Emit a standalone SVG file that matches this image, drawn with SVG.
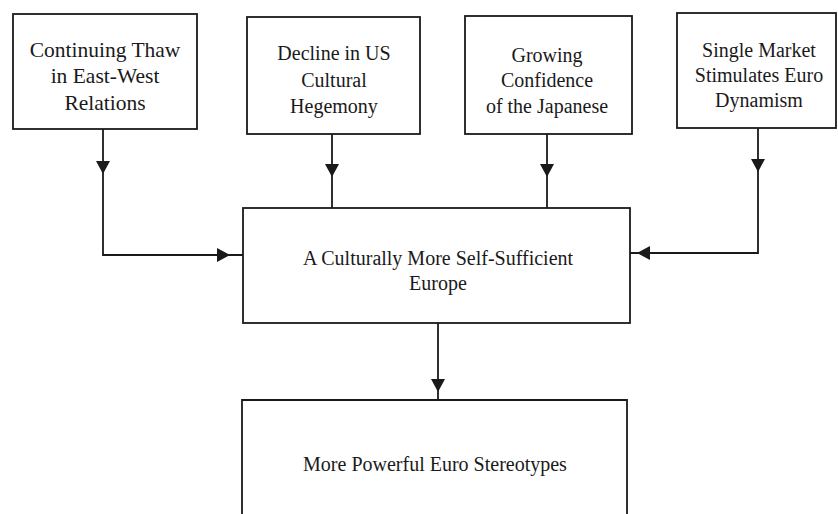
<svg xmlns="http://www.w3.org/2000/svg" width="838" height="514" viewBox="0 0 838 514">
<style>
.box{fill:#fff;stroke:#1a1a1a;stroke-width:1.8}
.ln{fill:none;stroke:#1a1a1a;stroke-width:1.8}
.t{font-family:"Liberation Serif","DejaVu Serif",serif;font-size:20px;fill:#1a1a1a;text-anchor:middle}
.big{font-size:21.5px}
.ah{fill:#1a1a1a}
</style>
<defs>
<path id="ah" d="M-7,-13 L7,-13 L0,0 Z"/>
</defs>
<rect width="838" height="514" fill="#fff"/>
<g id="connectors">
<path class="ln" d="M103,129 V255 H243"/>
<path class="ln" d="M332,134 V208"/>
<path class="ln" d="M547,134 V208"/>
<path class="ln" d="M758,128 V253 H630"/>
<path class="ln" d="M438,323 V400"/>
<use href="#ah" class="ah" transform="translate(103,174)"/>
<use href="#ah" class="ah" transform="translate(332,177)"/>
<use href="#ah" class="ah" transform="translate(547,177)"/>
<use href="#ah" class="ah" transform="translate(758,172)"/>
<use href="#ah" class="ah" transform="translate(230,255) rotate(-90)"/>
<use href="#ah" class="ah" transform="translate(637,253) rotate(90)"/>
<use href="#ah" class="ah" transform="translate(438,392)"/>
</g>
<g id="n1">
<rect class="box" x="13" y="14" width="184" height="115"/>
<text class="t big" x="105" y="57">Continuing Thaw</text>
<text class="t big" x="105" y="83">in East-West</text>
<text class="t big" x="105" y="110">Relations</text>
</g>
<g id="n2">
<rect class="box" x="247" y="17" width="173" height="117"/>
<text class="t" x="334" y="60">Decline in US</text>
<text class="t" x="334" y="87">Cultural</text>
<text class="t" x="334" y="113">Hegemony</text>
</g>
<g id="n3">
<rect class="box" x="465" y="16" width="167" height="118"/>
<text class="t" x="547" y="62">Growing</text>
<text class="t" x="547" y="87">Confidence</text>
<text class="t" x="547" y="113">of the Japanese</text>
</g>
<g id="n4">
<rect class="box" x="677" y="13" width="159" height="115"/>
<text class="t" x="759" y="57">Single Market</text>
<text class="t" x="759" y="82">Stimulates Euro</text>
<text class="t" x="759" y="107">Dynamism</text>
</g>
<g id="center">
<rect class="box" x="243" y="208" width="387" height="115"/>
<text class="t" x="438" y="265">A Culturally More Self-Sufficient</text>
<text class="t" x="438" y="290">Europe</text>
</g>
<g id="bottom">
<path class="box" d="M242,520 V400 H627 V520"/>
<text class="t" x="435" y="471">More Powerful Euro Stereotypes</text>
</g>
</svg>
